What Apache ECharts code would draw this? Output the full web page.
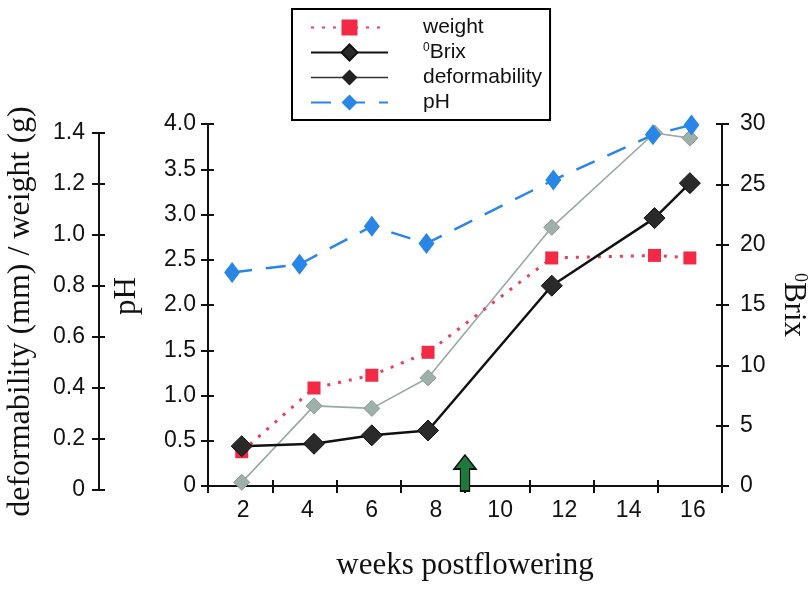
<!DOCTYPE html>
<html>
<head>
<meta charset="utf-8">
<script src="https://cdn.jsdelivr.net/npm/echarts@6/dist/echarts.min.js"></script>
<style>
html,body{margin:0;padding:0;background:#fff;}
#chart{width:811px;height:589px;}
</style>
</head>
<body>
<div id="chart"></div>
<script>
// ---- data ----
const weeks        = [2.05, 4.3, 6.1, 7.85, 11.7, 14.9, 16.0];
const phWeeks      = [1.75, 3.85, 6.1, 7.8, 11.75, 14.85, 16.05];
const weightG      = [0.15, 0.40, 0.45, 0.54, 0.91, 0.92, 0.91];
const brix         = [3.3, 3.5, 4.2, 4.6, 16.6, 22.2, 25.1];
const deformMm     = [0.03, 0.33, 0.32, 0.44, 1.03, 1.40, 1.38];
const pH           = [2.36, 2.45, 2.87, 2.68, 3.38, 3.88, 3.99];
const arrowWeek    = 9;

const pair = (xs, ys) => xs.map((x, i) => [x, ys[i]]);

const sans = "'Liberation Sans', Arial, sans-serif";
const serif = "'Liberation Serif', 'Times New Roman', serif";
const ink = '#111';
const axisLine = {show: true, lineStyle: {color: ink, width: 2}};
const tickOut = {show: true, inside: false, length: 7, lineStyle: {color: ink, width: 2}};
const tickIn = {show: true, inside: true, length: 6, lineStyle: {color: ink, width: 2}};
const fmt1 = v => (v === 0 ? '0' : v.toFixed(1));

const chart = echarts.init(document.getElementById('chart'));
chart.setOption({
  animation: false,
  backgroundColor: '#fff',
  grid: [
    {left: 208, right: 89, top: 124, bottom: 103, outerBoundsMode: 'none', containLabel: false},
    {left: 208, right: 89, top: 133, bottom: 99, outerBoundsMode: 'none', containLabel: false}
  ],
  legend: {
    orient: 'vertical',
    left: 292, top: 9,
    padding: [8, 8, 7, 18],
    borderColor: '#000', borderWidth: 2,
    itemWidth: 77, itemHeight: 20, itemGap: 4,
    data: [
      {name: 'weight'},
      {name: 'Brix'},
      {name: 'deformability', itemStyle: {color: '#222', borderColor: '#222', borderWidth: 0},
       lineStyle: {color: '#333', width: 1.5}},
      {name: 'pH'}
    ],
    formatter: n => (n === 'Brix' ? '{sup|0}Brix' : n),
    textStyle: {
      fontFamily: sans, fontSize: 21, color: ink, padding: [0, 0, 0, 30],
      rich: {sup: {fontFamily: sans, fontSize: 12, color: ink, padding: [0, 0, 9, 0]}}
    }
  },
  xAxis: [
    {type: 'value', gridIndex: 0, position: 'bottom', min: 1, max: 17, interval: 2,
     axisLine: axisLine, axisTick: tickOut, axisLabel: {show: false}, splitLine: {show: false}},
    {type: 'value', gridIndex: 0, position: 'bottom', min: 1, max: 17, interval: 2,
     axisLine: {show: false}, axisTick: tickIn, axisLabel: {show: false}, splitLine: {show: false}},
    {type: 'value', gridIndex: 0, position: 'bottom', min: 1, max: 17, interval: 1,
     axisLine: {show: false}, axisTick: {show: false}, splitLine: {show: false},
     axisLabel: {show: true, margin: 13, fontFamily: sans, fontSize: 23, color: ink,
                 padding: [0, 0, 0, 6],
                 formatter: v => (v % 2 === 0 ? String(v) : '')},
     name: 'weeks postflowering', nameLocation: 'middle', nameGap: 64,
     nameTextStyle: {fontFamily: serif, fontSize: 31, color: ink}},
    {type: 'value', gridIndex: 1, min: 1, max: 17, show: false}
  ],
  yAxis: [
    {type: 'value', gridIndex: 0, position: 'left', min: 0, max: 4, interval: 0.5,
     axisLine: axisLine, axisTick: tickOut, splitLine: {show: false},
     axisLabel: {margin: 12, fontFamily: sans, fontSize: 23, color: ink, formatter: fmt1},
     name: 'pH', nameLocation: 'middle', nameGap: 66, nameRotate: 90,
     nameTextStyle: {fontFamily: serif, fontSize: 31, color: ink, padding: [0, 0, 0, 18]}},
    {type: 'value', gridIndex: 0, position: 'left', min: 0, max: 4, interval: 0.5,
     axisLine: {show: false}, axisTick: tickIn, axisLabel: {show: false}, splitLine: {show: false}},
    {type: 'value', gridIndex: 0, position: 'right', min: 0, max: 30, interval: 5,
     axisLine: axisLine, axisTick: tickOut, splitLine: {show: false},
     axisLabel: {margin: 18, fontFamily: sans, fontSize: 23, color: ink},
     name: '{sup|0}Brix', nameLocation: 'middle', nameGap: 56, nameRotate: -90,
     nameTextStyle: {fontFamily: serif, fontSize: 31, color: ink,
       rich: {sup: {fontFamily: serif, fontSize: 18, color: ink, padding: [0, 0, 12, 0]}}}},
    {type: 'value', gridIndex: 0, position: 'right', min: 0, max: 30, interval: 5,
     axisLine: {show: false}, axisTick: tickIn, axisLabel: {show: false}, splitLine: {show: false}},
    {type: 'value', gridIndex: 1, position: 'left', offset: 109, min: 0, max: 1.4, interval: 0.2,
     axisLine: axisLine, axisTick: tickOut, splitLine: {show: false},
     axisLabel: {margin: 14, fontFamily: sans, fontSize: 23, color: ink, formatter: fmt1},
     name: 'deformability (mm) / weight (g)', nameLocation: 'middle', nameGap: 62, nameRotate: 90,
     nameTextStyle: {fontFamily: serif, fontSize: 32, color: ink}},
    {type: 'value', gridIndex: 1, position: 'left', offset: 109, min: 0, max: 1.4, interval: 0.2,
     axisLine: {show: false}, axisTick: tickIn, axisLabel: {show: false}, splitLine: {show: false}}
  ],
  series: [
    {name: 'deformability', type: 'line', xAxisIndex: 3, yAxisIndex: 4,
     data: pair(weeks, deformMm), symbol: 'diamond', symbolSize: [16, 16],
     itemStyle: {color: '#9fb0ab', borderColor: '#8a9c97', borderWidth: 1},
     lineStyle: {color: '#98a9a5', width: 1.6}, z: 2},
    {name: 'weight', type: 'line', xAxisIndex: 3, yAxisIndex: 4,
     data: pair(weeks, weightG), symbol: 'rect', symbolSize: 13,
     itemStyle: {color: '#f22a45'},
     lineStyle: {color: '#e8405c', width: 3, type: [3, 8]}, z: 3},
    {name: 'Brix', type: 'line', xAxisIndex: 0, yAxisIndex: 2,
     data: pair(weeks, brix), symbol: 'diamond', symbolSize: [21, 21],
     itemStyle: {color: '#2a2a2a', borderColor: '#111', borderWidth: 1},
     lineStyle: {color: '#111', width: 2.5}, z: 4,
     markPoint: {
       silent: true,
       symbol: 'path://M12,0 L24,14 L17,14 L17,36 L7,36 L7,14 L0,14 Z',
       symbolSize: [22, 36], symbolOffset: [0, -13],
       itemStyle: {color: '#1e7a3c', borderColor: '#111', borderWidth: 1.5},
       label: {show: false},
       data: [{coord: [arrowWeek, 0]}]
     }},
    {name: 'pH', type: 'line', xAxisIndex: 0, yAxisIndex: 0,
     data: pair(phWeeks, pH), symbol: 'diamond', symbolSize: [16, 21],
     itemStyle: {color: '#2a86e6'},
     lineStyle: {color: '#2a86e6', width: 2.5, type: [20, 14]}, z: 5}
  ]
});
</script>
</body>
</html>
